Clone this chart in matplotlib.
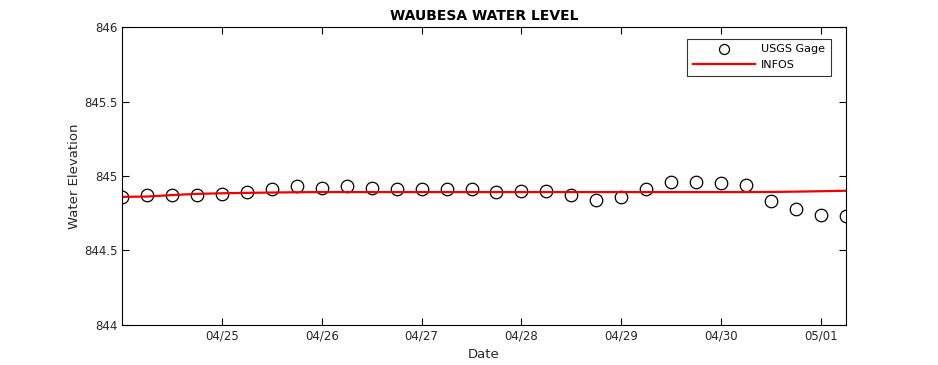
"""
Waubesa water level: USGS gage readings vs INFOS model, MATLAB-like styling.
Output: out.png
"""

import matplotlib
matplotlib.use("Agg")
import matplotlib.pyplot as plt
import matplotlib.dates as mdates
import pandas as pd

# 6-hourly timestamps, 04/24 00:00 .. 05/01 06:00
times = pd.date_range("2017-04-24 00:00", periods=30, freq="6h")

usgs_gage = [
    844.86, 844.87, 844.87, 844.87, 844.88, 844.89, 844.91, 844.93, 844.92, 844.93,
    844.92, 844.91, 844.91, 844.91, 844.91, 844.89, 844.90, 844.90, 844.87, 844.84,
    844.86, 844.91, 844.96, 844.96, 844.95, 844.94, 844.83, 844.78, 844.74, 844.73,
]

infos = [
    844.860, 844.862, 844.872, 844.880, 844.884, 844.887, 844.889, 844.891, 844.892, 844.892,
    844.892, 844.892, 844.892, 844.892, 844.892, 844.892, 844.892, 844.892, 844.892, 844.892,
    844.892, 844.892, 844.892, 844.892, 844.892, 844.892, 844.893, 844.895, 844.898, 844.901,
]

# x ticks start at 04/25 (no label on the left corner)
x_ticks = pd.date_range("2017-04-25", "2017-05-01", freq="D")
y_ticks = [844, 844.5, 845, 845.5, 846]
y_tick_labels = ["844", "844.5", "845", "845.5", "846"]

fig = plt.figure(figsize=(9.38, 3.65), dpi=100, facecolor="white")
ax = fig.add_axes([0.130, 0.1096, 0.772, 0.8164])

ax.plot(times, usgs_gage, linestyle="none", marker="o", markersize=9,
        markerfacecolor="none", markeredgecolor="black", markeredgewidth=0.9,
        label="USGS Gage")
ax.plot(times, infos, color="#ee0000", linewidth=1.6, label="INFOS")

ax.set_xlim(times[0], times[-1])
ax.set_ylim(844, 846)
ax.set_yticks(y_ticks)
ax.set_yticklabels(y_tick_labels)
ax.set_xticks(x_ticks)
ax.xaxis.set_major_formatter(mdates.DateFormatter("%m/%d"))

ax.tick_params(direction="in", top=True, right=True, length=5, width=0.8,
               labelsize=8.5, labelcolor="#262626", pad=3)
for s in ax.spines.values():
    s.set_linewidth(0.8)

ax.set_title("WAUBESA WATER LEVEL", fontsize=10, fontweight="bold", pad=5)
ax.set_xlabel("Date", fontsize=9.5, color="#262626", labelpad=4)
ax.set_ylabel("Water Elevation", fontsize=9.5, color="#262626", labelpad=2)

leg = ax.legend(loc="upper right", bbox_to_anchor=(0.979, 0.96),
                fontsize=8, frameon=True, fancybox=False, edgecolor="black",
                handlelength=5.6, handletextpad=0.55, borderpad=0.5,
                labelspacing=0.5, borderaxespad=0, markerscale=0.8)
leg.get_frame().set_linewidth(0.8)

fig.savefig("out.png", dpi=100, facecolor="white")
